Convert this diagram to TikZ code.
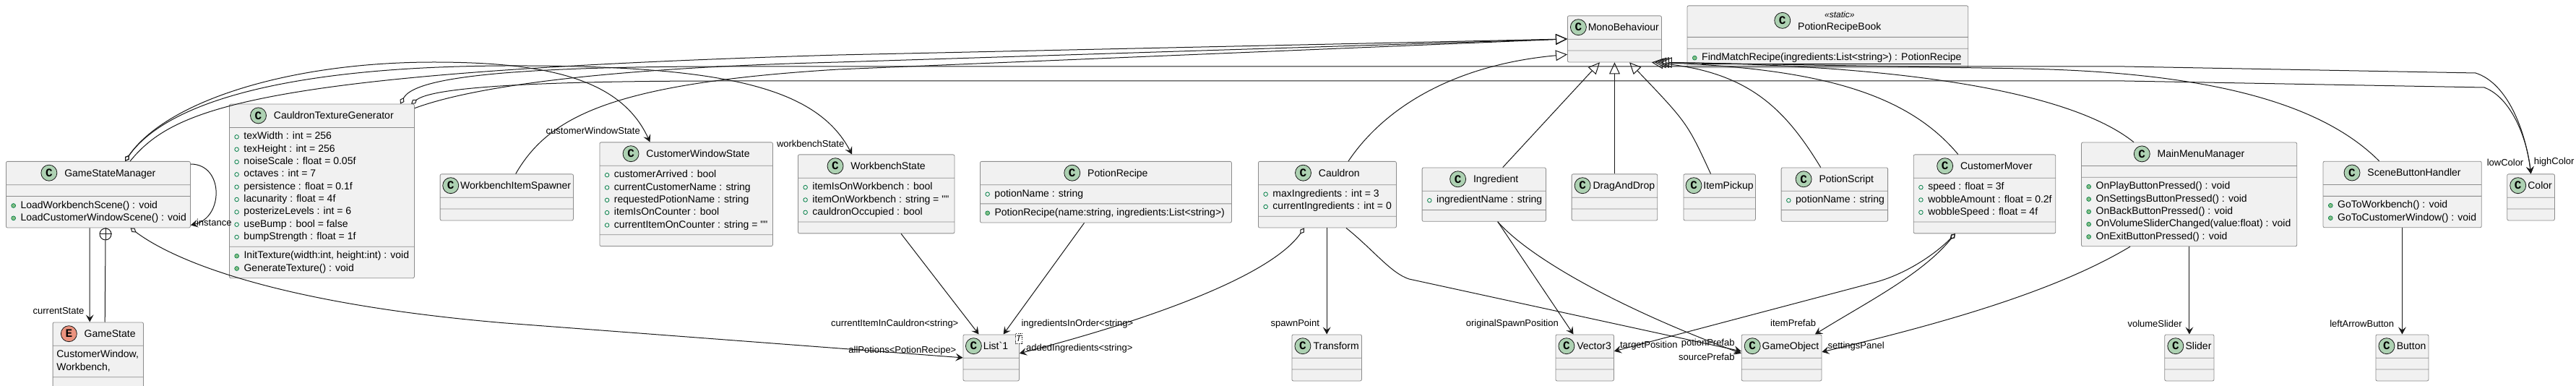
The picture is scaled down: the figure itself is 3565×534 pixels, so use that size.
\documentclass[tikz,border=0pt]{standalone}
\usepackage{fontspec}
\setmainfont{Liberation Sans}
\newfontfamily\umlfont{Liberation Sans}
\newfontfamily\iconfont{Liberation Mono}
\usetikzlibrary{shapes.multipart, arrows.meta, calc}

\definecolor{boxfill}{HTML}{F1F1F1}
\definecolor{boxline}{HTML}{8C8C8C}
\definecolor{linecol}{HTML}{181818}
\definecolor{iconfill}{HTML}{ADD1B2}
\definecolor{enumfill}{HTML}{EB937F}
\definecolor{fieldgreen}{HTML}{038048}
\definecolor{methodfill}{HTML}{84BE84}

\newcommand\clsfont{\umlfont\fontsize{10.5}{13}\selectfont}
\newcommand\lblfont{\umlfont\fontsize{9.75}{11}\selectfont}
\newcommand\stereofont{\umlfont\itshape\fontsize{9}{10}\selectfont}

\newdimen\pxu \pxu=0.75pt
\newdimen\hdgap
\newsavebox\hdname

\newcommand\clsicon[2]{\tikz[baseline={([yshift=-3.7pt]ic.center)}]\node (ic) [circle, draw=linecol, fill=#1, line width=0.6pt, inner sep=0pt, minimum size=16.5pt, font=\iconfont\bfseries\fontsize{12}{12}\selectfont] {#2};}
\newcommand\cicon{\clsicon{iconfill}{C}}
\newcommand\eicon{\clsicon{enumfill}{E}}
\newcommand\hd[3][\cicon]{%
  \sbox\hdname{#3}%
  \hdgap=#2\pxu
  \advance\hdgap by -\wd\hdname
  \advance\hdgap by -18pt
  \ifdim\hdgap>7.5pt \hdgap=7.5pt\fi
  \ifdim\hdgap<1.5pt \hdgap=1.5pt\fi
  \makebox[#2\pxu][c]{#1\hspace{\hdgap}\usebox\hdname}\rule[-5.4pt]{0pt}{17.6pt}}
\newcommand\mem[2]{\parbox{#1\pxu}{#2}}
\newcommand\fld{\strut\hspace*{3pt}\tikz[baseline=-2.7pt]\draw[fieldgreen, line width=0.6pt] (0,0) circle (2.1pt);\hspace{5pt}}
\newcommand\mth{\strut\hspace*{3pt}\tikz[baseline=-2.7pt]\draw[fieldgreen, fill=methodfill, line width=0.5pt] (0,0) circle (2.2pt);\hspace{5pt}}

\begin{document}
\begin{tikzpicture}[x=0.75pt, y=-0.75pt,
    cls/.style={rectangle split, rectangle split parts=3, draw=boxline, fill=boxfill, line width=0.6pt,
      rounded corners=1.5pt, inner xsep=2.25pt, inner ysep=3pt, rectangle split empty part height=0pt,
      rectangle split empty part depth=0pt, anchor=north west, font=\clsfont},
    conn/.style={draw=linecol, line width=0.75pt},
    ext/.style={conn, -{Triangle[open, length=12pt, width=11pt]}},
    assoc/.style={conn, -{Stealth[length=7.5pt, width=8pt, inset=3pt]}},
    agg/.style={conn, {Diamond[open, length=7.5pt, width=5pt]}-{Stealth[length=7.5pt, width=8pt, inset=3pt]}},
    lbl/.style={font=\lblfont, inner sep=0pt},
    nest/.style={circle, draw=linecol, line width=0.75pt, fill=white, minimum size=12pt, inner sep=0pt}
  ]
  \useasboundingbox (0,0) rectangle (3565,534);

  \node (gsm) [cls] at (8,223) {\hd{249}{GameStateManager}\nodepart{two}\nodepart{three}\mem{249}{\mth LoadWorkbenchScene() : void\\\mth LoadCustomerWindowScene() : void}};
  \node (gamestate) [cls] at (72.7,445.5) {\hd[\eicon]{119.3}{GameState}\nodepart{two}\mem{119.3}{\strut\hspace*{1.7pt}CustomerWindow,\\\strut\hspace*{1.7pt}Workbench,}\nodepart{three}};
  \node (ctg) [cls] at (317,143.7) {\hd{250}{CauldronTextureGenerator}\nodepart{two}\mem{250}{\fld texWidth : int = 256\\\fld texHeight : int = 256\\\fld noiseScale : float = 0.05f\\\fld octaves : int = 7\\\fld persistence : float = 0.1f\\\fld lacunarity : float = 4f\\\fld posterizeLevels : int = 6\\\fld useBump : bool = false\\\fld bumpStrength : float = 1f}\nodepart{three}\mem{250}{\mth InitTexture(width:int, height:int) : void\\\mth GenerateTexture() : void}};
  \node (wis) [cls] at (608.7,240.5) {\hd{178.3}{WorkbenchItemSpawner}\nodepart{two}\nodepart{three}};
  \node (cws) [cls] at (829.5,196.5) {\hd{233.5}{CustomerWindowState}\nodepart{two}\mem{233.5}{\fld customerArrived : bool\\\fld currentCustomerName : string\\\fld requestedPotionName : string\\\fld itemIsOnCounter : bool\\\fld currentItemOnCounter : string = ""}\nodepart{three}};
  \node (wbs) [cls] at (1104,213.5) {\hd{210.5}{WorkbenchState}\nodepart{two}\mem{210.5}{\fld itemIsOnWorkbench : bool\\\fld itemOnWorkbench : string = ""\\\fld cauldronOccupied : bool}\nodepart{three}};
  \node (recipe) [cls] at (1356,223) {\hd{342}{PotionRecipe}\nodepart{two}\mem{342}{\fld potionName : string}\nodepart{three}\mem{342}{\mth PotionRecipe(name:string, ingredients:List<string>)}};
  \node (list) [cls] at (1332.6,462.5) {\makebox[71.4\pxu][l]{\cicon\hspace{1.5pt}List`1}\rule[-5.4pt]{0pt}{17.6pt}\nodepart{two}\nodepart{three}};
  \node (listT) [draw=linecol, dash pattern=on 1pt off 1pt, fill=white, font=\umlfont\itshape\fontsize{9}{9}\selectfont, inner xsep=0.6pt, inner ysep=2pt] at ($(list.north east)+(-1,5.5)$) {T};
  \node (cauldron) [cls] at (1741,223) {\hd{185}{Cauldron}\nodepart{two}\mem{185}{\fld maxIngredients : int = 3\\\fld currentIngredients : int = 0}\nodepart{three}};
  \node (transform) [cls] at (1787.5,462.5) {\hd{90.5}{Transform}\nodepart{two}\nodepart{three}};
  \node (mono) [cls] at (2169,21.5) {\hd{124}{MonoBehaviour}\nodepart{two}\nodepart{three}};
  \node (ingredient) [cls] at (1967.7,231.6) {\hd{165.3}{Ingredient}\nodepart{two}\mem{165.3}{\fld ingredientName : string}\nodepart{three}};
  \node (dragdrop) [cls] at (2174.7,240.5) {\hd{112.7}{DragAndDrop}\nodepart{two}\nodepart{three}};
  \node (vector) [cls] at (2152.5,462.5) {\hd{74.5}{Vector3}\nodepart{two}\nodepart{three}};
  \node (book) [cls] at (2334.6,7.5) {\makebox[382.7\pxu][c]{\cicon\hspace{7.5pt}\begin{tabular}[c]{@{}c@{}}\stereofont «static»\\PotionRecipeBook\end{tabular}}\nodepart{two}\nodepart{three}\mem{382.7}{\mth\underline{FindMatchRecipe(ingredients:List<string>) : PotionRecipe}}};
  \node (pickup) [cls] at (2329.5,240.5) {\hd{93.5}{ItemPickup}\nodepart{two}\nodepart{three}};
  \node (pscript) [cls] at (2464.7,231.6) {\hd{141.5}{PotionScript}\nodepart{two}\mem{141.5}{\fld potionName : string}\nodepart{three}};
  \node (mover) [cls] at (2647.8,213.5) {\hd{190.5}{CustomerMover}\nodepart{two}\mem{190.5}{\fld speed : float = 3f\\\fld wobbleAmount : float = 0.2f\\\fld wobbleSpeed : float = 4f}\nodepart{three}};
  \node (gameobj) [cls] at (2409.8,462.5) {\hd{104.7}{GameObject}\nodepart{two}\nodepart{three}};
  \node (menu) [cls] at (2880,196.7) {\hd{292.3}{MainMenuManager}\nodepart{two}\nodepart{three}\mem{292.3}{\mth OnPlayButtonPressed() : void\\\mth OnSettingsButtonPressed() : void\\\mth OnBackButtonPressed() : void\\\mth OnVolumeSliderChanged(value:float) : void\\\mth OnExitButtonPressed() : void}};
  \node (buttons) [cls] at (3214.6,222.8) {\hd{213.2}{SceneButtonHandler}\nodepart{two}\nodepart{three}\mem{213.2}{\mth GoToWorkbench() : void\\\mth GoToCustomerWindow() : void}};
  \node (color) [cls] at (3469.3,240.5) {\hd{59.7}{Color}\nodepart{two}\nodepart{three}};
  \node (slider) [cls] at (2995.4,462.5) {\hd{62.2}{Slider}\nodepart{two}\nodepart{three}};
  \node (button) [cls] at (3287.5,462.5) {\hd{67}{Button}\nodepart{two}\nodepart{three}};

  % inheritance
  \draw[ext] ($(gsm.north west)+(172,0)$) .. controls (240,150) and (350,100) .. (1160,76) -- (mono.west);
  \draw[ext] ($(ctg.north east)+(0,6)$) .. controls (640,125) and (800,95) .. (1160,86) -- (mono.west);
  \draw[ext] ($(wis.north west)+(105,0)$) .. controls (760,160) and (850,115) .. (1160,96) -- (mono.west);
  \draw[ext] ($(cauldron.north west)+(125,0)$) .. controls (1915,150) and (2010,90) .. ($(mono.south west)+(0,-11)$);
  \draw[ext] ($(ingredient.north west)+(112,0)$) -- ($(mono.south west)+(45,0)$);
  \draw[ext] (dragdrop.north) -- (dragdrop.north |- mono.south);
  \draw[ext] ($(pickup.north west)+(38,0)$) .. controls (2335,170) .. ($(mono.south west)+(86,0)$);
  \draw[ext] ($(pscript.north west)+(55,0)$) .. controls (2470,150) and (2420,100) .. ($(mono.south east)+(-14,0)$);
  \draw[ext] ($(mover.north west)+(62,0)$) .. controls (2640,130) and (2520,95) .. ($(mono.south east)+(-10,0)$);
  \draw[ext] ($(menu.north west)+(73,0)$) .. controls (2870,130) and (2650,90) .. ($(mono.south east)+(-6,0)$);
  \draw[ext] ($(buttons.north west)+(78,0)$) .. controls (3210,140) and (3050,100) .. (2800,95) -- ($(mono.south east)+(-2,0)$);

  % GameStateManager
  \draw[assoc] ($(gsm.north east)+(0,4)$) .. controls (310,227) and (310,301) .. ($(gsm.south east)+(0,-4)$);
  \node (t-instance) [lbl, anchor=west] at ($(gsm.south east)+(8,-8)$) {instance};
  \draw[assoc] ($(gsm.south west)+(116,0)$) -- ($(gamestate.north west)+(51.5,0)$);
  \node (t-state) [lbl, anchor=east] at ($(gamestate.north west)+(44,-15)$) {currentState};
  \node (nest) [nest, anchor=north] at ($(gsm.south west)+(138,0)$) {};
  \draw[conn] (nest.north) -- (nest.south) (nest.west) -- (nest.east);
  \draw[conn] (nest.south) -- ($(gamestate.north west)+(72.5,0)$);
  \draw[agg] ($(gsm.south west)+(172.5,0)$) .. controls (240,360) and (380,420) .. (700,447) -- (list.west);
  \node (t-potions) [lbl, anchor=east] at ($(list.west)+(-9,-9.5)$) {allPotions<PotionRecipe>};
  \draw[agg] ($(gsm.north west)+(165,0)$) .. controls (230,140) and (400,86) .. (600,86) .. controls (760,86) and (860,110) .. ($(cws.north west)+(70,0)$);
  \node (t-cws) [lbl, anchor=east] at ($(cws.north west)+(56.5,-16)$) {customerWindowState};
  \draw[agg] ($(gsm.north west)+(165,0)$) .. controls (235,135) and (420,92) .. (700,91) .. controls (1000,90) and (1130,120) .. ($(wbs.north west)+(75,0)$);
  \node (t-wbs) [lbl, anchor=east] at ($(wbs.north west)+(64.5,-15)$) {workbenchState};

  % List`1
  \draw[assoc] ($(wbs.south west)+(143,0)$) -- ($(list.north west)+(22,0)$);
  \node (t-current) [lbl, anchor=east] at ($(list.north west)+(-6,-14.5)$) {currentItemInCauldron<string>};
  \draw[assoc] ($(recipe.south west)+(144.5,0)$) -- ($(list.north west)+(56,0)$);
  \node (t-order) [lbl, anchor=west] at ($(list.north east)+(2.5,-14.5)$) {ingredientsInOrder<string>};
  \draw[agg] ($(cauldron.south west)+(64,0)$) .. controls (1760,380) and (1600,440) .. ($(list.east)+(0,-6)$);
  \node (t-added) [lbl, anchor=west] at ($(list.east)+(9,-13)$) {addedIngredients<string>};

  % Cauldron, Ingredient
  \draw[assoc] (transform.north |- cauldron.south) -- (transform.north);
  \node (t-spawn) [lbl, anchor=east] at ($(transform.north)+(-10,-14.5)$) {spawnPoint};
  \draw[assoc] ($(ingredient.south west)+(105,0)$) -- ($(vector.north west)+(25,0)$);
  \node (t-origin) [lbl, anchor=east] at ($(vector.north west)+(4.5,-14.5)$) {originalSpawnPosition};
  \draw[assoc] ($(cauldron.south west)+(122,0)$) .. controls (1900,345) and (1925,378) .. (1950,386) -- ($(gameobj.west)+(0,-9)$);
  \node (t-potion) [lbl, anchor=east] at ($(gameobj.west)+(-9,-20)$) {potionPrefab};
  \draw[assoc] ($(ingredient.south west)+(105,0)$) .. controls (2120,360) and (2250,430) .. ($(gameobj.west)+(0,-6)$);
  \node (t-source) [lbl, anchor=east] at ($(gameobj.west)+(-9,-1)$) {sourcePrefab};

  % CustomerMover, menus
  \draw[agg] ($(mover.south west)+(58,0)$) .. controls (2680,350) and (2640,378) .. (2597,390) -- ($(vector.east)+(0,-9)$);
  \node (t-target) [lbl, anchor=west] at ($(vector.east)+(8,-17)$) {targetPosition};
  \draw[agg] ($(mover.south west)+(58,0)$) .. controls (2660,380) and (2580,420) .. ($(gameobj.north west)+(102,0)$);
  \node (t-item) [lbl, anchor=east] at ($(gameobj.north east)+(-8,-15.5)$) {itemPrefab};
  \draw[assoc] ($(menu.south west)+(68,0)$) .. controls (2850,400) and (2700,445) .. ($(gameobj.east)+(0,-8)$);
  \node (t-panel) [lbl, anchor=west] at ($(gameobj.east)+(8,-16)$) {settingsPanel};
  \draw[assoc] (slider.north |- menu.south) -- (slider.north);
  \node (t-volume) [lbl, anchor=east] at ($(slider.north)+(-10,-14.5)$) {volumeSlider};
  \draw[assoc] (button.north |- buttons.south) -- (button.north);
  \node (t-left) [lbl, anchor=east] at ($(button.north)+(-11,-14.5)$) {leftArrowButton};

  % colours
  \draw[agg] ($(ctg.north west)+(237,0)$) .. controls (570,115) and (640,92) .. (1000,92) -- (2940,92) -- (3426,101) .. controls (3470,115) and (3495,180) .. (color.north);
  \node (t-low) [lbl, anchor=east] at ($(color.north)+(-10,-16)$) {lowColor};
  \draw[agg] ($(ctg.north west)+(252,0)$) .. controls (590,128) and (650,112) .. (1000,112) -- (2940,112) -- (3438,121) .. controls (3475,135) and (3497,190) .. (color.north);
  \node (t-high) [lbl, anchor=west] at ($(color.north)+(4,-16)$) {highColor};
\end{tikzpicture}
\end{document}
